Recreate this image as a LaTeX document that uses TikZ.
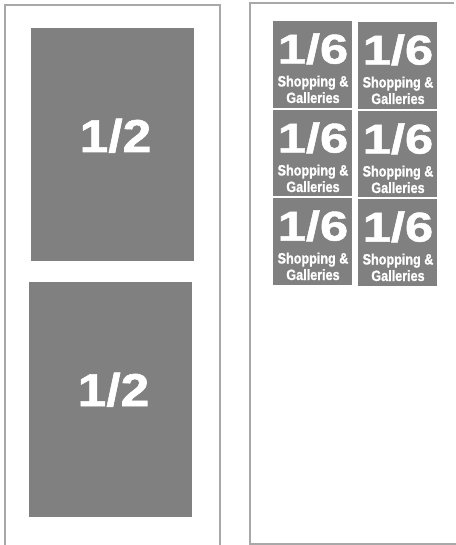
\documentclass[tikz,border=0pt]{standalone}
\usepackage{graphicx}
\usepackage{fontspec}
\setmainfont{Liberation Sans}
\newfontfamily\heavy{Liberation Sans Bold}[FakeBold=1.2]
\usetikzlibrary{calc}
\definecolor{adgray}{HTML}{808080}
\definecolor{panelgray}{HTML}{A8A8A8}
\newcommand\sxbig[1]{\scalebox{1.12}[1]{#1}}
\newcommand\sxmid[1]{\scalebox{1.22}[1]{#1}}
\newcommand\sxsmall[1]{\scalebox{0.84}[1]{#1}}
\tikzset{
  panel/.style={draw=panelgray, line width=1.5pt},
  adbox/.style={fill=adgray, draw=none, inner sep=0pt, outer sep=0pt, anchor=north west},
  halftext/.style={text=white, anchor=base, inner sep=0pt, font=\heavy\fontsize{46}{46}\selectfont},
  sixtext/.style={text=white, anchor=base, inner sep=0pt, font=\heavy\fontsize{41.5}{41.5}\selectfont},
  captext/.style={text=white, anchor=base, inner sep=0pt, font=\heavy\fontsize{15}{15}\selectfont},
}
\begin{document}
\begin{tikzpicture}[x=1pt,y=-1pt]
\useasboundingbox (0,0) rectangle (455,545);
% panels
\coordinate (lpbl) at (5,546);
\coordinate (lptl) at (5,5);
\coordinate (lptr) at (220,5);
\coordinate (lpbr) at (220,546);
\draw[panel] (lpbl) -- (lptl) -- (lptr) -- (lpbr);
\coordinate (rptr) at (454,3);
\coordinate (rptl) at (250,3);
\coordinate (rpbl) at (250,544);
\coordinate (rpbr) at (456,544);
\draw[panel] (rptr) -- (rptl) -- (rpbl) -- (rpbr);
% half-page ads
\node[adbox, minimum width=163, minimum height=232.5] (h1) at (31,28) {};
\node[halftext] (h1t) at ($(h1.north)+(3,124)$) {\sxbig{1/2}};
\node[adbox, minimum width=163, minimum height=235] (h2) at (29,282) {};
\node[halftext] (h2t) at ($(h2.north)+(3,124)$) {\sxbig{1/2}};
% sixth-page ads
\foreach \n/\x/\y/\h in {a/273/21/87, b/273/110/86, c/273/198/87, d/358/22/87, e/358/111/86, f/358/199/87}{
  \node[adbox, minimum width=79, minimum height=\h] (s\n) at (\x,\y) {};
  \node[sixtext] (s\n num) at ($(s\n.north)+(0.5,42.5)$) {\sxmid{1/6}};
  \node[captext] (s\n cap1) at ($(s\n.north)+(0.5,65.5)$) {\sxsmall{Shopping \&}};
  \node[captext] (s\n cap2) at ($(s\n.north)+(0.5,82)$) {\sxsmall{Galleries}};
}
\end{tikzpicture}
\end{document}
